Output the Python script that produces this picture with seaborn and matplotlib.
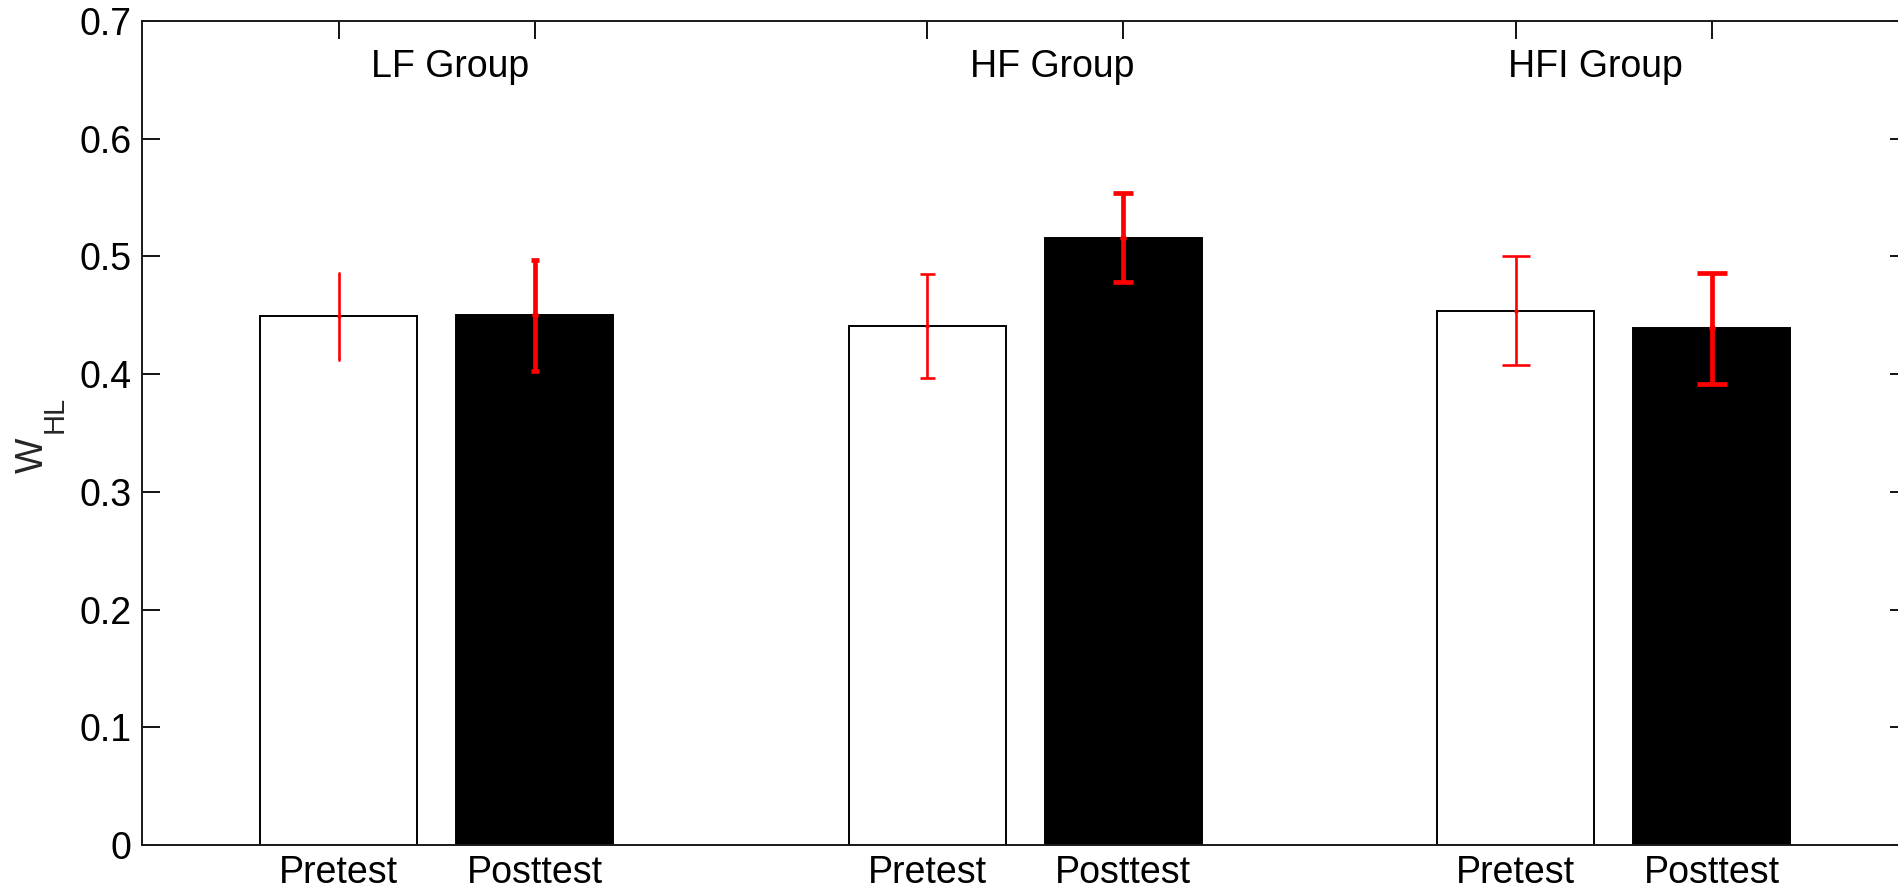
import numpy as np
import pandas as pd
import matplotlib
matplotlib.use("Agg")
import matplotlib.pyplot as plt
import seaborn as sns

# Data: three training groups, each measured before and after
groups = ["LF Group", "HF Group", "HFI Group"]
phases = ["Pretest", "Posttest"]
positions = [1, 2, 4, 5, 7, 8]
phase_of_bar = ["Pretest", "Posttest", "Pretest", "Posttest", "Pretest", "Posttest"]
w_hl_mean = [0.449, 0.450, 0.441, 0.516, 0.454, 0.439]
w_hl_err = [0.037, 0.047, 0.044, 0.038, 0.046, 0.047]
y_ticks = [0, 0.1, 0.2, 0.3, 0.4, 0.5, 0.6, 0.7]
y_tick_labels = ["0", "0.1", "0.2", "0.3", "0.4", "0.5", "0.6", "0.7"]

# Error-bar styling per bar (cap half-width in points, line width in points)
cap_sizes = [1.0, 3.2, 5.4, 7.5, 10.4, 10.8]
err_widths = [1.9, 3.4, 1.9, 3.4, 1.9, 3.4]
# Group caption anchors (x in data units, left-aligned)
caption_x = [1.163, 4.22, 6.96]
caption_y = 0.6527

FS = 27

sns.set_style("ticks")
plt.rcParams["font.family"] = ["Liberation Sans", "DejaVu Sans"]

df = pd.DataFrame({"pos": positions, "value": w_hl_mean, "phase": phase_of_bar})

fig = plt.figure(figsize=(18.99, 8.89), dpi=100)
ax = fig.add_axes([0.075, 0.0495, 0.9298, 0.9269])

sns.barplot(
    data=df, x="pos", y="value", hue="phase", hue_order=phases,
    palette={"Pretest": "white", "Posttest": "black"},
    native_scale=True, dodge=False, width=0.8,
    edgecolor="black", linewidth=1.4, errorbar=None, legend=False, ax=ax,
)

for x, m, e, cs, lw in zip(positions, w_hl_mean, w_hl_err, cap_sizes, err_widths):
    ax.errorbar(
        x, m, yerr=e, fmt="o", color="#ff0000", ecolor="#ff0000",
        markersize=lw * 1.1, elinewidth=lw, capsize=cs, capthick=lw, zorder=4,
    )

for gx, name in zip(caption_x, groups):
    ax.text(gx, caption_y, name, fontsize=FS, ha="left", va="baseline", color="black")

ax.set_xlim(0, 9)
ax.set_ylim(0, 0.7)
ax.set_xticks(positions)
ax.set_xticklabels(phase_of_bar, fontsize=FS)
ax.set_yticks(y_ticks)
ax.set_yticklabels(y_tick_labels, fontsize=FS)
ax.set_xlabel("")
ax.set_ylabel("")

for s in ax.spines.values():
    s.set_visible(True)
    s.set_linewidth(1.4)
    s.set_color("#1a1a1a")

ax.tick_params(axis="x", direction="in", bottom=False, top=True, labelbottom=True,
               labeltop=False, length=13, width=1.3, pad=7, colors="black")
ax.tick_params(axis="y", direction="in", left=True, right=True, labelleft=True,
               labelright=False, length=13, width=1.3, pad=8, colors="black")

# Y-axis label: W with subscript HL
fig.text(33 / 1899, 1 - 455 / 889, "W", rotation=90, fontsize=FS,
         ha="center", va="center")
fig.text(55 / 1899, 1 - 414 / 889, "HL", rotation=90, fontsize=21,
         ha="center", va="center")

fig.savefig("out.png", dpi=100)
